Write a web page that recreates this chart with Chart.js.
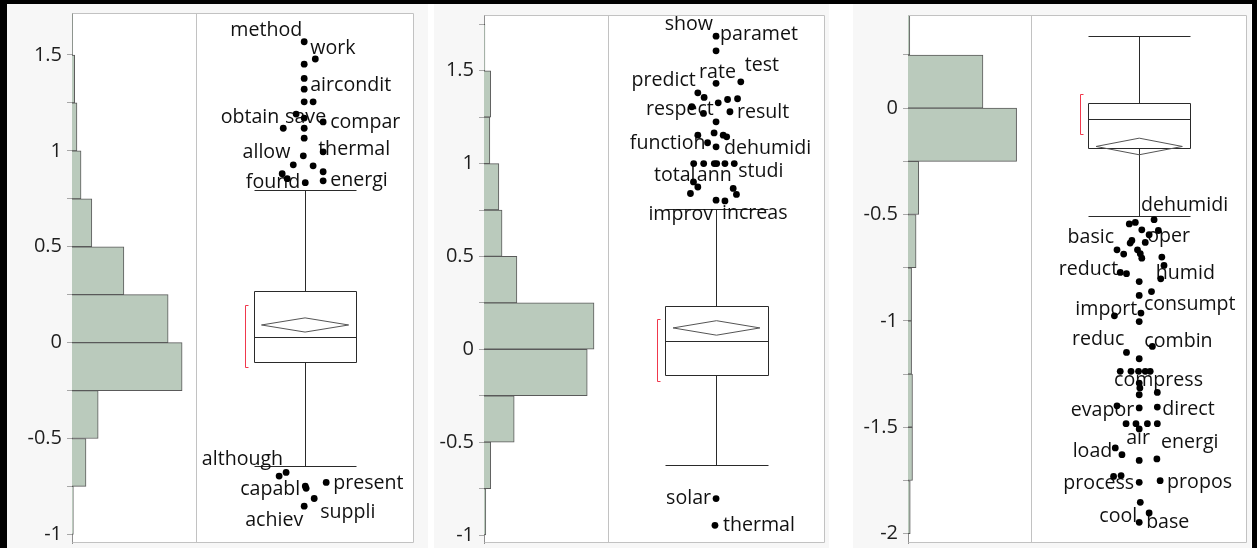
<!DOCTYPE html>
<html>
<head>
<meta charset="utf-8">
<script src="https://cdn.jsdelivr.net/npm/chart.js@4.4.1/dist/chart.umd.min.js"></script>
<style>
  html, body { margin: 0; padding: 0; background: #ffffff; width: 1257px; height: 548px; overflow: hidden; }
  .bar { position: absolute; background: #000; }
  .panel { position: absolute; top: 4px; height: 544px; background: #f7f7f7; }
</style>
</head>
<body>
<div class="panel" style="left:7px;width:421px"><canvas id="c1"></canvas></div>
<div class="panel" style="left:434px;width:395px"><canvas id="c2"></canvas></div>
<div class="panel" style="left:853px;width:398px"><canvas id="c3"></canvas></div>
<div class="bar" style="left:0;top:0;width:1257px;height:4px"></div>
<div class="bar" style="left:0;top:0;width:7px;height:548px"></div>
<div class="bar" style="left:1252px;top:0;width:5px;height:548px"></div>
<script>
// ---------------- DATA ----------------
const BIN_WIDTH = 0.25;
const TICK_STEP = 0.25;

// Panel 1
const p1BinStarts = [1.5, 1.25, 1.0, 0.75, 0.5, 0.25, 0, -0.25, -0.5, -0.75, -1.0];
const p1Counts    = [1, 6, 11, 20, 44, 115, 213, 244, 58, 31, 3];
const p1BoxStats  = [-0.644, -0.101, 0.029, 0.269, 0.796];   // low whisker, Q1, median, Q3, high whisker
const p1Mean      = [0.092, 0.037];                          // mean, CI half-width
const p1Shortest  = [-0.129, 0.195];                         // shortest half
const p1OutValues = [1.569, 1.479, 1.452, 1.378, 1.322, 1.256, 1.256, 1.192, 1.171, 1.151, 1.118, 1.118, 1.066, 0.995, 0.974, 0.927, 0.922, 0.891, 0.881, 0.855, 0.844, 0.834, -0.696, -0.677, -0.729, -0.748, -0.760, -0.813, -0.853];
const p1OutJitter = [0.496, 0.547, 0.496, 0.496, 0.496, 0.496, 0.537, 0.459, 0.496, 0.583, 0.400, 0.496, 0.496, 0.583, 0.492, 0.446, 0.537, 0.583, 0.395, 0.418, 0.583, 0.501, 0.381, 0.413, 0.597, 0.501, 0.505, 0.542, 0.496];
const p1Labels    = [[0, 'method'], [1, 'work'], [4, 'aircondit'], [10, 'obtain'], [7, 'save'], [9, 'compar'], [13, 'thermal'], [14, 'allow'], [20, 'energi'], [21, 'found'], [22, 'although'], [25, 'capabl'], [24, 'present'], [27, 'suppli'], [28, 'achiev']];

// Panel 2
const p2BinStarts = [1.5, 1.25, 1.0, 0.75, 0.5, 0.25, 0, -0.25, -0.5, -0.75, -1.0];
const p2Counts    = [2, 15, 13, 33, 40, 73, 244, 229, 67, 15, 4];
const p2BoxStats  = [-0.625, -0.136, 0.047, 0.232, 0.753];
const p2Mean      = [0.115, 0.039];
const p2Shortest  = [-0.172, 0.165];
const p2OutValues = [1.686, 1.607, 1.432, 1.440, 1.381, 1.356, 1.327, 1.345, 1.349, 1.306, 1.270, 1.279, 1.225, 1.165, 1.153, 1.153, 1.144, 1.112, 1.090, 1.0, 1.0, 1.0, 1.0, 1.0, 1.0, 0.901, 0.874, 0.839, 0.866, 0.834, 0.803, 0.799, -0.804, -0.948];
const p2OutJitter = [0.498, 0.498, 0.498, 0.612, 0.414, 0.443, 0.508, 0.551, 0.597, 0.386, 0.440, 0.562, 0.498, 0.489, 0.414, 0.531, 0.547, 0.459, 0.498, 0.395, 0.441, 0.490, 0.501, 0.539, 0.582, 0.394, 0.414, 0.380, 0.577, 0.592, 0.498, 0.539, 0.498, 0.493];
const p2Labels    = [[0, 'show'], [0, 'paramet'], [2, 'rate'], [3, 'test'], [4, 'predict'], [9, 'respect'], [11, 'result'], [17, 'function'], [18, 'dehumidi'], [25, 'total'], [26, 'ann'], [28, 'studi'], [30, 'improv'], [31, 'increas'], [32, 'solar'], [33, 'thermal']];

// Panel 3
const p3BinStarts = [0.25, 0, -0.25, -0.5, -0.75, -1.0, -1.25, -1.5, -1.75, -2.0];
const p3Counts    = [4, 167, 242, 24, 18, 8, 8, 10, 10, 5];
const p3BoxStats  = [-0.506, -0.185, -0.052, 0.026, 0.341];
const p3Mean      = [-0.180, 0.039];
const p3Shortest  = [-0.122, 0.066];
const p3OutValues = [-0.524, -0.544, -0.537, -0.572, -0.575, -0.595, -0.622, -0.634, -0.631, -0.666, -0.686, -0.666, -0.684, -0.705, -0.700, -0.739, -0.772, -0.778, -0.802, -0.815, -0.862, -0.880, -0.963, -0.976, -1.003, -1.120, -1.148, -1.178, -1.237, -1.237, -1.237, -1.237, -1.237, -1.292, -1.315, -1.336, -1.347, -1.399, -1.409, -1.405, -1.483, -1.483, -1.483, -1.483, -1.508, -1.597, -1.629, -1.649, -1.656, -1.731, -1.727, -1.759, -1.751, -1.853, -1.903, -1.947];
const p3OutJitter = [0.569, 0.454, 0.482, 0.512, 0.589, 0.546, 0.466, 0.458, 0.528, 0.397, 0.428, 0.492, 0.505, 0.512, 0.605, 0.615, 0.412, 0.441, 0.600, 0.500, 0.557, 0.500, 0.508, 0.385, 0.500, 0.561, 0.441, 0.500, 0.412, 0.462, 0.497, 0.528, 0.551, 0.500, 0.503, 0.584, 0.500, 0.397, 0.500, 0.584, 0.439, 0.485, 0.538, 0.584, 0.500, 0.389, 0.420, 0.582, 0.500, 0.381, 0.416, 0.500, 0.597, 0.505, 0.546, 0.500];
const p3Labels    = [[0, 'dehumidi'], [7, 'basic'], [8, 'oper'], [16, 'reduct'], [18, 'humid'], [22, 'consumpt'], [24, 'import'], [25, 'combin'], [26, 'reduc'], [29, 'compress'], [38, 'evapor'], [39, 'direct'], [44, 'air'], [45, 'load'], [47, 'energi'], [51, 'process'], [52, 'propos'], [54, 'base'], [55, 'cool']];

// ---------------- LAYOUT / STYLE ----------------
const FONT = "'Open Sans', 'Noto Sans', 'DejaVu Sans', sans-serif";
const HIST_MAX = 275;
const HIST_FILL = 'rgb(186,202,188)';
const HIST_EDGE = '#5a5a5a';
const BOX_CENTER = 0.5, BOX_HALF = 0.236, DIAMOND_HALF = 0.2, BRACKET_X = 0.225;

// label offsets in px relative to the labelled point: [dx, dy, align]
const p1LabelPos = [[-2,-11,'right'],[-5,-11,'left'],[6,-4,'left'],[-4,-11,'right'],[-11,3,'left'],[7,0,'left'],[-5,-2,'left'],[-13,-3,'right'],[7,0,'left'],[-5,0,'right'],[4,-17,'right'],[-5,3,'right'],[7,1,'left'],[6,14,'left'],[-1,14,'right']];
const p2LabelPos = [[-3,-12,'right'],[4,-2,'left'],[-17,-11,'left'],[4,-16,'left'],[-2,-12,'right'],[22,3,'right'],[7,1,'left'],[-2,1,'right'],[8,2,'left'],[2,-7,'right'],[-1,-12,'left'],[5,-17,'left'],[-3,14,'right'],[-3,13,'left'],[-5,0,'right'],[8,0,'left']];
const p3LabelPos = [[-13,-14,'left'],[-16,-6,'right'],[2,-6,'left'],[-2,-3,'right'],[-5,-5,'left'],[3,-9,'left'],[-2,-12,'right'],[-8,-5,'left'],[-2,-13,'right'],[-17,9,'left'],[-5,2,'right'],[5,2,'left'],[-13,9,'left'],[-3,3,'right'],[4,-17,'left'],[-5,1,'right'],[7,2,'left'],[-3,9,'left'],[-2,-6,'right']];

function makeChart(canvasId, cfg) {
  const binCenters = cfg.binStarts.map((b) => b + BIN_WIDTH / 2);
  const histData = binCenters.map((c, i) => ({ x: cfg.counts[i], y: c }));
  const pts = cfg.values.map((v, i) => ({ x: cfg.jitter[i], y: v }));

  const px = (v) => Math.round(v) + 0.5;

  const framePlugin = {
    id: 'frame_' + canvasId,
    beforeDraw(chart) {
      const a = chart.chartArea, ctx = chart.ctx;
      ctx.save();
      ctx.fillStyle = '#ffffff';
      ctx.fillRect(a.left, a.top, a.right - a.left, a.bottom - a.top);
      ctx.restore();
    },
    beforeDatasetsDraw(chart) {
      const ctx = chart.ctx, xs = chart.scales.xb, ys = chart.scales.y;
      const [wLo, q1, med, q3, wHi] = cfg.box;
      const [mean, ci] = cfg.mean;
      const [shLo, shHi] = cfg.shortest;
      const cx = px(xs.getPixelForValue(BOX_CENTER));
      const bl = px(xs.getPixelForValue(BOX_CENTER - BOX_HALF));
      const br = px(xs.getPixelForValue(BOX_CENTER + BOX_HALF));
      const y = (v) => px(ys.getPixelForValue(v));
      ctx.save();
      // shortest half bracket
      const bx = px(xs.getPixelForValue(BRACKET_X));
      ctx.strokeStyle = '#f0384c'; ctx.lineWidth = 1;
      ctx.beginPath();
      ctx.moveTo(bx + 3, y(shHi)); ctx.lineTo(bx, y(shHi)); ctx.lineTo(bx, y(shLo)); ctx.lineTo(bx + 3, y(shLo));
      ctx.stroke();
      // whiskers
      ctx.strokeStyle = '#2a2a2a'; ctx.lineWidth = 1;
      ctx.beginPath();
      ctx.moveTo(cx, y(q3)); ctx.lineTo(cx, y(wHi));
      ctx.moveTo(bl, y(wHi)); ctx.lineTo(br, y(wHi));
      ctx.moveTo(cx, y(q1)); ctx.lineTo(cx, y(wLo));
      ctx.moveTo(bl, y(wLo)); ctx.lineTo(br, y(wLo));
      ctx.stroke();
      // box + median
      ctx.beginPath();
      ctx.rect(bl, y(q3), br - bl, y(q1) - y(q3));
      ctx.moveTo(bl, y(med)); ctx.lineTo(br, y(med));
      ctx.stroke();
      // mean diamond
      const dl = xs.getPixelForValue(BOX_CENTER - DIAMOND_HALF);
      const dr = xs.getPixelForValue(BOX_CENTER + DIAMOND_HALF);
      const dc = xs.getPixelForValue(BOX_CENTER);
      ctx.strokeStyle = '#555';
      ctx.beginPath();
      ctx.moveTo(dl, ys.getPixelForValue(mean));
      ctx.lineTo(dc, ys.getPixelForValue(mean + ci));
      ctx.lineTo(dr, ys.getPixelForValue(mean));
      ctx.lineTo(dc, ys.getPixelForValue(mean - ci));
      ctx.closePath();
      ctx.stroke();
      // labels
      ctx.font = '19.6px ' + FONT;
      ctx.fillStyle = '#111';
      ctx.textBaseline = 'middle';
      cfg.labels.forEach(([idx, word], k) => {
        const [dx, dy, align] = cfg.labelPos[k];
        const x0 = xs.getPixelForValue(cfg.jitter[idx]);
        const y0 = ys.getPixelForValue(cfg.values[idx]);
        ctx.textAlign = align;
        ctx.fillText(word, x0 + dx, y0 + dy);
      });
      ctx.restore();
    },
    afterDraw(chart) {
      const a = chart.chartArea, ctx = chart.ctx, xs = chart.scales.xb;
      ctx.save();
      ctx.strokeStyle = '#c2c2c2'; ctx.lineWidth = 1;
      ctx.beginPath();
      ctx.moveTo(px(a.left), px(a.top)); ctx.lineTo(px(a.right - 1), px(a.top));
      ctx.lineTo(px(a.right - 1), px(a.bottom - 1)); ctx.lineTo(px(a.left), px(a.bottom - 1));
      const dv = px(xs.left);
      ctx.moveTo(dv, a.top); ctx.lineTo(dv, a.bottom);
      ctx.stroke();
      ctx.restore();
    }
  };

  return new Chart(document.getElementById(canvasId), {
    type: 'scatter',
    data: {
      datasets: [
        { type: 'bar', indexAxis: 'y', data: histData, xAxisID: 'xh', yAxisID: 'yh',
          backgroundColor: HIST_FILL, borderColor: HIST_EDGE, borderWidth: 1, borderSkipped: 'start',
          grouped: false, barPercentage: 1, categoryPercentage: 1 },
        { type: 'scatter', data: pts, xAxisID: 'xb', yAxisID: 'y',
          pointRadius: 3.4, pointBackgroundColor: '#000', pointBorderWidth: 0, pointBorderColor: '#000' }
      ]
    },
    options: {
      responsive: true, maintainAspectRatio: false, animation: false, events: [],
      layout: { padding: cfg.padding },
      plugins: { legend: { display: false }, tooltip: { enabled: false } },
      scales: {
        xh: { type: 'linear', position: 'bottom', stack: 'row', stackWeight: cfg.weights[0], min: 0, max: HIST_MAX, offset: false, display: false },
        xb: { type: 'linear', position: 'bottom', stack: 'row', stackWeight: cfg.weights[1], min: 0, max: 1, offset: false, display: false },
        yh: {
          type: 'linear', position: 'left', min: cfg.yMin, max: cfg.yMax, bounds: 'data', offset: false, display: false,
          afterBuildTicks(s) { s.ticks = binCenters.map((c) => ({ value: c })); }
        },
        y: {
          type: 'linear', position: 'left', min: cfg.yMin, max: cfg.yMax, bounds: 'data', offset: false,
          afterBuildTicks(s) {
            const ticks = [];
            for (let v = Math.ceil(cfg.yMin / TICK_STEP) * TICK_STEP; v <= cfg.yMax + 1e-9; v += TICK_STEP) {
              ticks.push({ value: Math.round(v * 100) / 100 });
            }
            s.ticks = ticks;
          },
          afterFit(s) { s.width = cfg.axisWidth; s.paddingTop = 0; s.paddingBottom = 0; },
          ticks: {
            autoSkip: false, padding: 5,
            color: '#1e1e1e', font: { family: FONT, size: 20 },
            callback: (v) => (Math.abs(v * 2 - Math.round(v * 2)) < 1e-9 ? String(v) : '')
          },
          grid: { drawOnChartArea: false, drawTicks: true, tickLength: 5, tickColor: '#a8a8a8', offset: false },
          border: { display: true, color: '#8f8f8f' }
        }
      }
    },
    plugins: [framePlugin]
  });
}

makeChart('c1', {
  binStarts: p1BinStarts, counts: p1Counts, box: p1BoxStats, mean: p1Mean, shortest: p1Shortest,
  values: p1OutValues, jitter: p1OutJitter, labels: p1Labels, labelPos: p1LabelPos,
  yMin: -1.045, yMax: 1.719, axisWidth: 65, weights: [124, 217.7],
  padding: { left: 0, top: 9, right: 14, bottom: 5 }
});
makeChart('c2', {
  binStarts: p2BinStarts, counts: p2Counts, box: p2BoxStats, mean: p2Mean, shortest: p2Shortest,
  values: p2OutValues, jitter: p2OutJitter, labels: p2Labels, labelPos: p2LabelPos,
  yMin: -1.043, yMax: 1.80, axisWidth: 50, weights: [124.7, 218.3],
  padding: { left: 0, top: 11, right: 2, bottom: 5 }
});
makeChart('c3', {
  binStarts: p3BinStarts, counts: p3Counts, box: p3BoxStats, mean: p3Mean, shortest: p3Shortest,
  values: p3OutValues, jitter: p3OutJitter, labels: p3Labels, labelPos: p3LabelPos,
  yMin: -2.044, yMax: 0.438, axisWidth: 55, weights: [124, 216.6],
  padding: { left: 0, top: 11, right: 3, bottom: 5 }
});
</script>
</body>
</html>
